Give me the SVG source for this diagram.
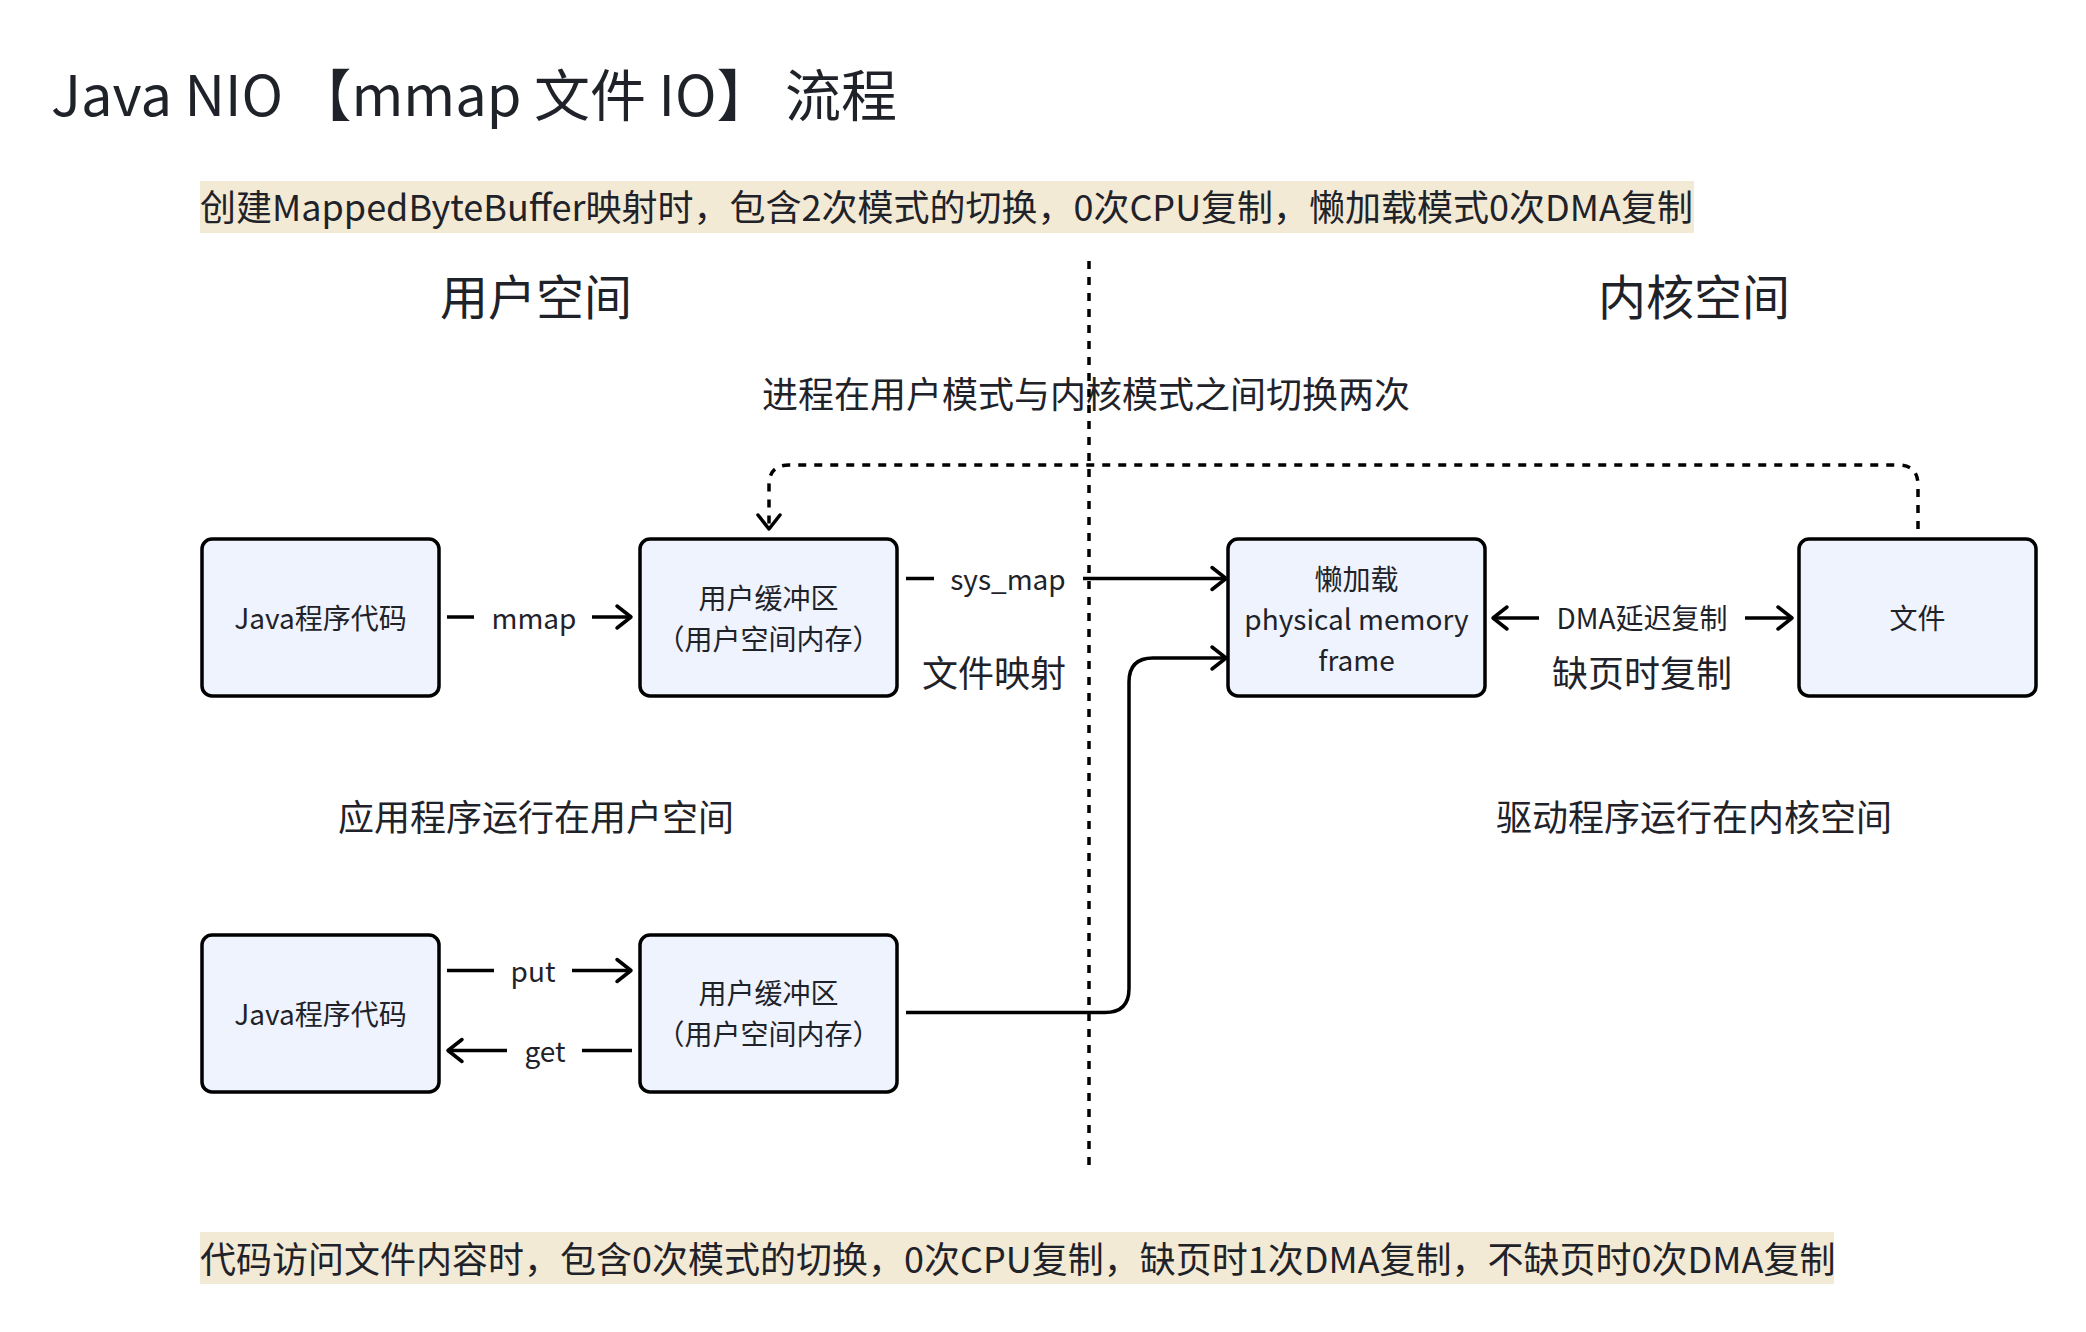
<svg xmlns="http://www.w3.org/2000/svg" width="2086" height="1332" viewBox="0 0 2086 1332">
<defs>
<style>
text{font-family:'Noto Sans CJK SC','Noto Sans',sans-serif;fill:#1f2329}
.t{font-size:56px}
.hl{font-size:36px}
.h{font-size:48px;text-anchor:middle}
.l{font-size:36px;text-anchor:middle}
.n{font-size:28px;text-anchor:middle}
.c{font-size:28px;text-anchor:middle}
.box{fill:#eef3fd;stroke:#000;stroke-width:3.5}
.ln{fill:none;stroke:#000;stroke-width:3.5}
.dash{fill:none;stroke:#000;stroke-width:3.5;stroke-dasharray:8 8}
</style>
<marker id="ah" viewBox="-18 -14 22 28" markerWidth="22" markerHeight="28" refX="0" refY="0" markerUnits="userSpaceOnUse" orient="auto-start-reverse">
<path d="M-14,-11 L0,0 L-14,11" fill="none" stroke="#000" stroke-width="3.5" stroke-linecap="round" stroke-linejoin="round"/>
</marker>
</defs>
<rect width="2086" height="1332" fill="#fff"/>

<text class="t" x="51" y="116">Java NIO 【mmap 文件 IO】 流程</text>

<g id="note-top">
<rect x="200" y="181" width="1494" height="52" fill="#f3ead5"/>
<text class="hl" x="200" y="221">创建MappedByteBuffer映射时，包含2次模式的切换，0次CPU复制，懒加载模式0次DMA复制</text>
</g>

<g id="labels">
<text class="h" x="536" y="315">用户空间</text>
<text class="h" x="1694" y="315">内核空间</text>
<text class="l" x="1086" y="408">进程在用户模式与内核模式之间切换两次</text>
<text class="l" x="536" y="831">应用程序运行在用户空间</text>
<text class="l" x="1694" y="831">驱动程序运行在内核空间</text>
<text class="l" x="994" y="687">文件映射</text>
<text class="l" x="1642" y="687">缺页时复制</text>
</g>

<g id="divider">
<line class="dash" x1="1089" y1="261" x2="1089" y2="1166"/>
</g>

<g id="connectors">
<path class="dash" d="M1918,529 V485 Q1918,465 1898,465 H789 Q769,465 769,485 V529" marker-end="url(#ah)"/>
<path class="ln" d="M447,617 H474 M592,617 H631" marker-end="url(#ah)"/>
<path class="ln" d="M906,578.5 H934 M1083,578.5 H1226" marker-end="url(#ah)"/>
<path class="ln" d="M906,1012.5 H1105 Q1129,1012.5 1129,988.5 V682 Q1129,658 1153,658 H1226" marker-end="url(#ah)"/>
<path class="ln" d="M1493,618 H1539 M1745,618 H1792" marker-start="url(#ah)" marker-end="url(#ah)"/>
<path class="ln" d="M447,970.5 H494 M572,970.5 H631" marker-end="url(#ah)"/>
<path class="ln" d="M632,1050.5 H582 M507,1050.5 H448" marker-end="url(#ah)"/>
<text class="c" x="534" y="629">mmap</text>
<text class="c" x="1008" y="590">sys_map</text>
<text class="c" x="1642" y="629">DMA延迟复制</text>
<text class="c" x="533" y="982">put</text>
<text class="c" x="545" y="1062">get</text>
</g>

<g id="node-java1">
<rect class="box" x="202" y="539" width="237" height="157" rx="10"/>
<text class="n" x="320.5" y="629">Java程序代码</text>
</g>
<g id="node-buf1">
<rect class="box" x="640" y="539" width="257" height="157" rx="10"/>
<text class="n" x="768.5" y="609">用户缓冲区</text>
<text class="n" x="768.5" y="650">（用户空间内存）</text>
</g>
<g id="node-phys">
<rect class="box" x="1228" y="539" width="257" height="157" rx="10"/>
<text class="n" x="1356.5" y="590">懒加载</text>
<text class="n" x="1356.5" y="630">physical memory</text>
<text class="n" x="1356.5" y="671">frame</text>
</g>
<g id="node-file">
<rect class="box" x="1799" y="539" width="237" height="157" rx="10"/>
<text class="n" x="1917.5" y="629">文件</text>
</g>
<g id="node-java2">
<rect class="box" x="202" y="935" width="237" height="157" rx="10"/>
<text class="n" x="320.5" y="1025">Java程序代码</text>
</g>
<g id="node-buf2">
<rect class="box" x="640" y="935" width="257" height="157" rx="10"/>
<text class="n" x="768.5" y="1004">用户缓冲区</text>
<text class="n" x="768.5" y="1045">（用户空间内存）</text>
</g>

<g id="note-bottom">
<rect x="200" y="1232" width="1634" height="52" fill="#f3ead5"/>
<text class="hl" x="200" y="1273">代码访问文件内容时，包含0次模式的切换，0次CPU复制，缺页时1次DMA复制，不缺页时0次DMA复制</text>
</g>
</svg>
